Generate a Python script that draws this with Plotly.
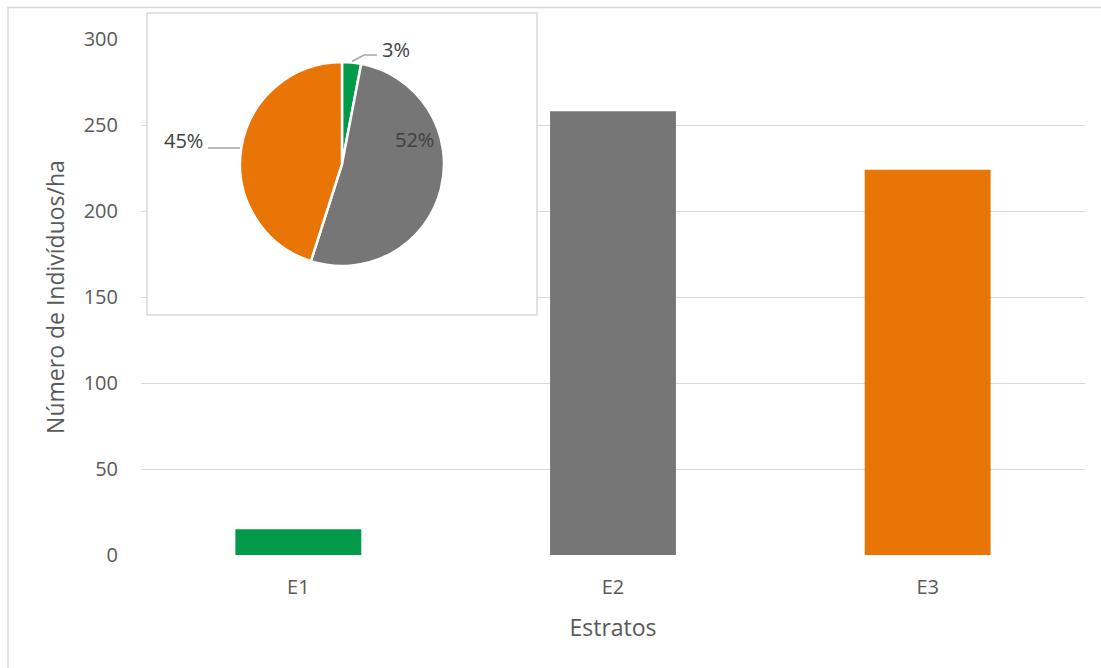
import plotly.graph_objects as go

# ---- data ----
categories = ["E1", "E2", "E3"]
values = [15, 258, 224]
colors = ["#009A48", "#767676", "#E97506"]
y_ticks = [0, 50, 100, 150, 200, 250, 300]

W, H = 1101, 668
FONT = "Open Sans"
TICK_COLOR = "#595959"
LABEL_COLOR = "#404040"
GRID = "#D9D9D9"

def px(x):
    return x / W

def py(y):
    return (H - y) / H

total = sum(values)
pcts = [f"{round(v / total * 100)}%" for v in values]

fig = go.Figure()

fig.add_trace(go.Bar(
    x=categories, y=values, marker=dict(color=colors, line=dict(width=0)),
    showlegend=False, hoverinfo="skip"
))

fig.add_trace(go.Pie(
    labels=categories, values=values, sort=False, direction="clockwise",
    rotation=0, marker=dict(colors=colors, line=dict(color="white", width=2.5)),
    textinfo="none", showlegend=False, hoverinfo="skip",
    domain=dict(x=[px(240), px(444)], y=[py(266), py(62)])
))

fig.update_layout(
    width=W, height=H,
    margin=dict(l=0, r=0, t=0, b=0),
    paper_bgcolor="white", plot_bgcolor="rgba(0,0,0,0)",
    font=dict(family=FONT, color=TICK_COLOR),
    bargap=0.6,
    xaxis=dict(
        domain=[px(141), px(1085)], automargin=False,
        showgrid=False, zeroline=False, showline=False, ticks="",
        tickfont=dict(size=20, color=TICK_COLOR), ticklabelstandoff=18,
        title=dict(text="Estratos", font=dict(size=23, color=TICK_COLOR), standoff=20),
    ),
    yaxis=dict(
        domain=[py(555), py(39)], range=[0, 300], automargin=False,
        tickvals=y_ticks, showgrid=True, gridcolor=GRID, gridwidth=1.3,
        zeroline=False, showline=False, ticks="",
        tickfont=dict(size=20, color=TICK_COLOR), ticklabelstandoff=22,
        title=dict(text="Número de Indivíduos/ha", font=dict(size=23, color=TICK_COLOR), standoff=12),
    ),
)

# outer chart border
fig.add_shape(type="rect", xref="paper", yref="paper",
              x0=px(8), x1=1.02, y0=-0.02, y1=py(7.5),
              line=dict(color=GRID, width=1.5), fillcolor="rgba(0,0,0,0)", layer="below")

# inset box fill (between gridlines and bars), in axis units
ppu = 516 / 300          # pixels per y unit
ppc = 944 / 3            # pixels per category
fig.add_shape(type="rect", xref="x", yref="y",
              x0=-0.5 + (147 - 141) / ppc, x1=-0.5 + (537 - 141) / ppc,
              y0=(555 - 315) / ppu, y1=(555 - 13) / ppu,
              line=dict(width=0), fillcolor="white", layer="between")
# inset box outline
fig.add_shape(type="rect", xref="paper", yref="paper",
              x0=px(147), x1=px(537), y0=py(315), y1=py(13),
              line=dict(color=GRID, width=1.5), fillcolor="rgba(0,0,0,0)", layer="above")

# leader lines
fig.add_shape(type="path", xref="paper", yref="paper",
              path=f"M {px(352)} {py(61.5)} L {px(364)} {py(55)} L {px(377)} {py(55)}",
              line=dict(color="#A6A6A6", width=1.5))
fig.add_shape(type="line", xref="paper", yref="paper",
              x0=px(208), x1=px(240), y0=py(148), y1=py(148),
              line=dict(color="#A6A6A6", width=1.5))

# pie labels
label_pos = [(396, 49), (414, 139), (183, 141)]
for txt, (lx, ly) in zip(pcts, label_pos):
    fig.add_annotation(text=txt, x=px(lx), y=py(ly), xref="paper", yref="paper",
                       showarrow=False, xanchor="center", yanchor="middle",
                       font=dict(family=FONT, size=20, color=LABEL_COLOR))

fig.write_html("out.html", config={"displayModeBar": False},
               post_script="document.body.style.margin='0';document.body.style.overflow='hidden';")
